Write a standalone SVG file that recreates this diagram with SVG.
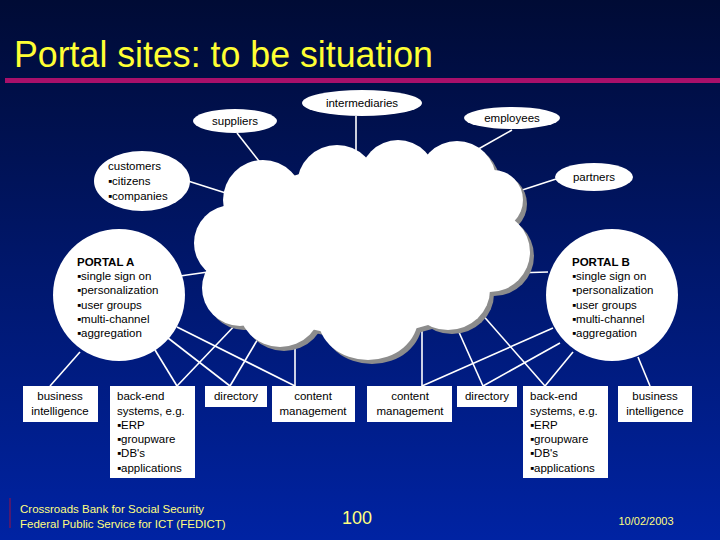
<svg xmlns="http://www.w3.org/2000/svg" width="720" height="540" viewBox="0 0 720 540">
<defs>
<linearGradient id="bg" x1="0" y1="0" x2="0" y2="1">
<stop offset="0" stop-color="#000b35"/>
<stop offset="1" stop-color="#0023a3"/>
</linearGradient>
<g id="cloudShape">
<ellipse cx="362" cy="250" rx="140" ry="85"/>
<circle cx="263" cy="200" r="40"/>
<circle cx="337" cy="185" r="40"/>
<circle cx="398" cy="178" r="38"/>
<circle cx="457" cy="180" r="39"/>
<circle cx="493" cy="200" r="30"/>
<circle cx="490" cy="252" r="40"/>
<ellipse cx="448" cy="290" rx="42" ry="40"/>
<ellipse cx="368" cy="318" rx="50" ry="42"/>
<circle cx="280" cy="305" r="42"/>
<circle cx="240" cy="288" r="38"/>
<circle cx="232" cy="243" r="38"/>
</g>
</defs>
<style>
.t{font-family:"Liberation Sans",Arial,sans-serif;font-size:11.5px;fill:#000}
.c{text-anchor:middle}
.b{font-weight:bold}
.node{fill:#fff}
.ln{stroke:#fff;stroke-width:1.6;fill:none}
.foot{font-family:"Liberation Sans",Arial,sans-serif;fill:#ffff80}
</style>
<rect x="0" y="0" width="720" height="540" fill="url(#bg)"/>
<text x="14" y="67" font-family="'Liberation Sans',Arial,sans-serif" font-size="36" fill="#ffff33" textLength="419" lengthAdjust="spacingAndGlyphs">Portal sites: to be situation</text>
<rect x="5" y="78" width="715" height="5" fill="#a8106a"/>

<g id="connectors" class="ln">
<line x1="356" y1="116" x2="356" y2="160"/>
<line x1="237" y1="133" x2="266" y2="170"/>
<line x1="188" y1="181" x2="232" y2="195"/>
<line x1="512" y1="130" x2="466" y2="156"/>
<line x1="556" y1="179" x2="510" y2="194"/>
<line x1="180" y1="276" x2="215" y2="271"/>
<line x1="548" y1="272" x2="515" y2="273"/>
<line x1="80" y1="352" x2="50" y2="386"/>
<line x1="155" y1="350" x2="177" y2="386"/>
<line x1="240" y1="320" x2="177" y2="386"/>
<line x1="168" y1="338" x2="230" y2="386"/>
<line x1="262" y1="332" x2="230" y2="386"/>
<line x1="177" y1="327" x2="295" y2="386"/>
<line x1="295" y1="340" x2="295" y2="386"/>
<line x1="422" y1="330" x2="422" y2="386"/>
<line x1="553" y1="328" x2="422" y2="386"/>
<line x1="458" y1="330" x2="483" y2="386"/>
<line x1="560" y1="343" x2="483" y2="386"/>
<line x1="480" y1="312" x2="545" y2="386"/>
<line x1="573" y1="352" x2="545" y2="386"/>
<line x1="638" y1="357" x2="650" y2="386"/>
</g>

<g id="cloud">
<use href="#cloudShape" transform="translate(4,4)" fill="#8c8c8c"/>
<use href="#cloudShape" fill="#fff"/>
</g>

<g id="intermediaries">
<ellipse class="node" cx="362" cy="103" rx="60" ry="13"/>
<text class="t c" x="362" y="107">intermediaries</text>
</g>
<g id="suppliers">
<ellipse class="node" cx="235" cy="121" rx="42" ry="12"/>
<text class="t c" x="235" y="125">suppliers</text>
</g>
<g id="employees">
<ellipse class="node" cx="512" cy="118" rx="48" ry="11"/>
<text class="t c" x="512" y="122">employees</text>
</g>
<g id="customers">
<ellipse class="node" cx="142" cy="181" rx="48" ry="30"/>
<text class="t" x="108" y="170">customers</text>
<text class="t" x="108" y="185">▪citizens</text>
<text class="t" x="108" y="200">▪companies</text>
</g>
<g id="partners">
<ellipse class="node" cx="594" cy="177" rx="39" ry="14"/>
<text class="t c" x="594" y="181">partners</text>
</g>

<g id="portalA">
<circle class="node" cx="119" cy="295" r="66"/>
<text class="t b" x="77" y="266">PORTAL A</text>
<text class="t" x="77" y="280">▪single sign on</text>
<text class="t" x="77" y="294">▪personalization</text>
<text class="t" x="77" y="309">▪user groups</text>
<text class="t" x="77" y="323">▪multi-channel</text>
<text class="t" x="77" y="337">▪aggregation</text>
</g>
<g id="portalB">
<circle class="node" cx="612" cy="295" r="66"/>
<text class="t b" x="572" y="266">PORTAL B</text>
<text class="t" x="572" y="280">▪single sign on</text>
<text class="t" x="572" y="294">▪personalization</text>
<text class="t" x="572" y="309">▪user groups</text>
<text class="t" x="572" y="323">▪multi-channel</text>
<text class="t" x="572" y="337">▪aggregation</text>
</g>

<g id="biA">
<rect class="node" x="23" y="386" width="75" height="36"/>
<text class="t c" x="60" y="400">business</text>
<text class="t c" x="60" y="415">intelligence</text>
</g>
<g id="backendA">
<rect class="node" x="110" y="386" width="85" height="92"/>
<text class="t" x="117" y="400">back-end</text>
<text class="t" x="117" y="415">systems, e.g.</text>
<text class="t" x="117" y="429">▪ERP</text>
<text class="t" x="117" y="443">▪groupware</text>
<text class="t" x="117" y="457">▪DB's</text>
<text class="t" x="117" y="472">▪applications</text>
</g>
<g id="directoryA">
<rect class="node" x="205" y="386" width="62" height="21"/>
<text class="t c" x="236" y="400">directory</text>
</g>
<g id="contentA">
<rect class="node" x="272" y="386" width="83" height="36"/>
<text class="t c" x="313" y="400">content</text>
<text class="t c" x="313" y="415">management</text>
</g>
<g id="contentB">
<rect class="node" x="367" y="386" width="85" height="36"/>
<text class="t c" x="410" y="400">content</text>
<text class="t c" x="410" y="415">management</text>
</g>
<g id="directoryB">
<rect class="node" x="457" y="386" width="60" height="21"/>
<text class="t c" x="487" y="400">directory</text>
</g>
<g id="backendB">
<rect class="node" x="523" y="386" width="85" height="92"/>
<text class="t" x="530" y="400">back-end</text>
<text class="t" x="530" y="415">systems, e.g.</text>
<text class="t" x="530" y="429">▪ERP</text>
<text class="t" x="530" y="443">▪groupware</text>
<text class="t" x="530" y="457">▪DB's</text>
<text class="t" x="530" y="472">▪applications</text>
</g>
<g id="biB">
<rect class="node" x="618" y="386" width="74" height="36"/>
<text class="t c" x="655" y="400">business</text>
<text class="t c" x="655" y="415">intelligence</text>
</g>

<line x1="10" y1="498" x2="10" y2="528" stroke="#a01040" stroke-width="1"/>
<text class="foot" x="20" y="513" font-size="11.5">Crossroads Bank for Social Security</text>
<text class="foot" x="20" y="528" font-size="11.5">Federal Public Service for ICT (FEDICT)</text>
<text class="foot" x="357" y="524" font-size="18" text-anchor="middle">100</text>
<text class="foot" x="646" y="525" font-size="11" text-anchor="middle">10/02/2003</text>
</svg>
